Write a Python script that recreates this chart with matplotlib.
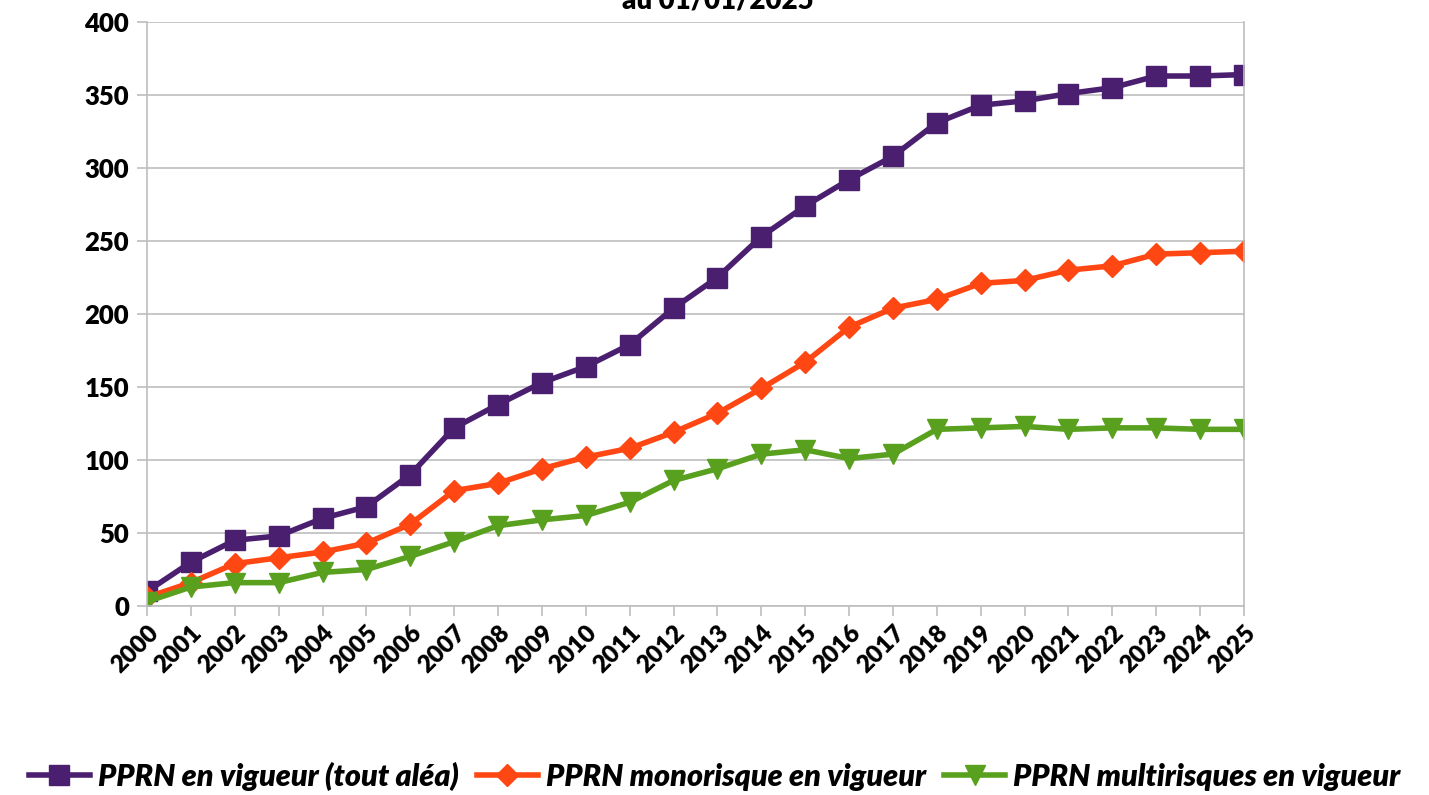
import numpy as np
import matplotlib.pyplot as plt

years = list(range(2000, 2026))

pprn_total = [10, 30, 45, 48, 60, 68, 90, 122, 138, 153, 164, 179, 204, 225, 253,
              274, 292, 308, 331, 343, 346, 351, 355, 363, 363, 364]
pprn_mono = [6, 16, 29, 33, 37, 43, 56, 79, 84, 94, 102, 108, 119, 132, 149,
             167, 191, 204, 210, 221, 223, 230, 233, 241, 242, 243]
pprn_multi = [3, 13, 16, 16, 23, 25, 34, 44, 55, 59, 62, 71, 86, 94, 104,
              107, 101, 104, 121, 122, 123, 121, 122, 122, 121, 121]

labels = ['PPRN en vigueur (tout aléa)', 'PPRN monorisque en vigueur',
          'PPRN multirisques en vigueur']

plt.rcParams['font.family'] = ['Lato', 'DejaVu Sans']

fig = plt.figure(figsize=(14.29, 7.95), dpi=100)
ax = fig.add_axes([147/1429, 1 - 606/795, (1244-147)/1429, (606-22)/795])

## Series
ax.plot(years, pprn_total, color='#4B1F6F', lw=4, marker='s', ms=14, label=labels[0])
ax.plot(years, pprn_mono, color='#FF4713', lw=4, marker='D', ms=11, label=labels[1])
ax.plot(years, pprn_multi, color='#58A01E', lw=4, marker='v', ms=14, label=labels[2])

ax.set_xlim(2000, 2025)
ax.set_ylim(0, 400)
ax.set_yticks(np.arange(0, 401, 50))
ax.set_xticks(years)
ax.set_xticklabels([str(y) for y in years], rotation=45, ha='right',
                   rotation_mode='anchor', fontsize=17.5, fontweight='heavy')
ax.set_yticklabels([str(v) for v in range(0, 401, 50)], fontsize=18.5, fontweight='heavy')

ax.grid(axis='y', color='#BEBEBE', lw=1.2)
ax.set_axisbelow(True)
for side in ['left', 'bottom', 'right']:
    ax.spines[side].set_color('#BEBEBE')
    ax.spines[side].set_linewidth(1.2)
ax.spines['top'].set_visible(False)
ax.tick_params(axis='both', color='#BEBEBE', length=7, width=1.2)
ax.tick_params(axis='x', pad=4)
ax.tick_params(axis='y', pad=6)

## Title mostly cut off at the top of the image
fig.text(0.502, 1 - 9/795, 'au 01/01/2025', ha='center', va='baseline',
         fontsize=20, fontweight='heavy')

leg = fig.legend(loc='lower center', bbox_to_anchor=(0.5, -0.022), ncol=3, frameon=False,
                 prop={'size': 22, 'weight': 'heavy', 'style': 'italic'},
                 handlelength=2.0, columnspacing=0.6, handletextpad=0.25,
                 borderpad=0.2)

fig.savefig('out.png', dpi=100)
